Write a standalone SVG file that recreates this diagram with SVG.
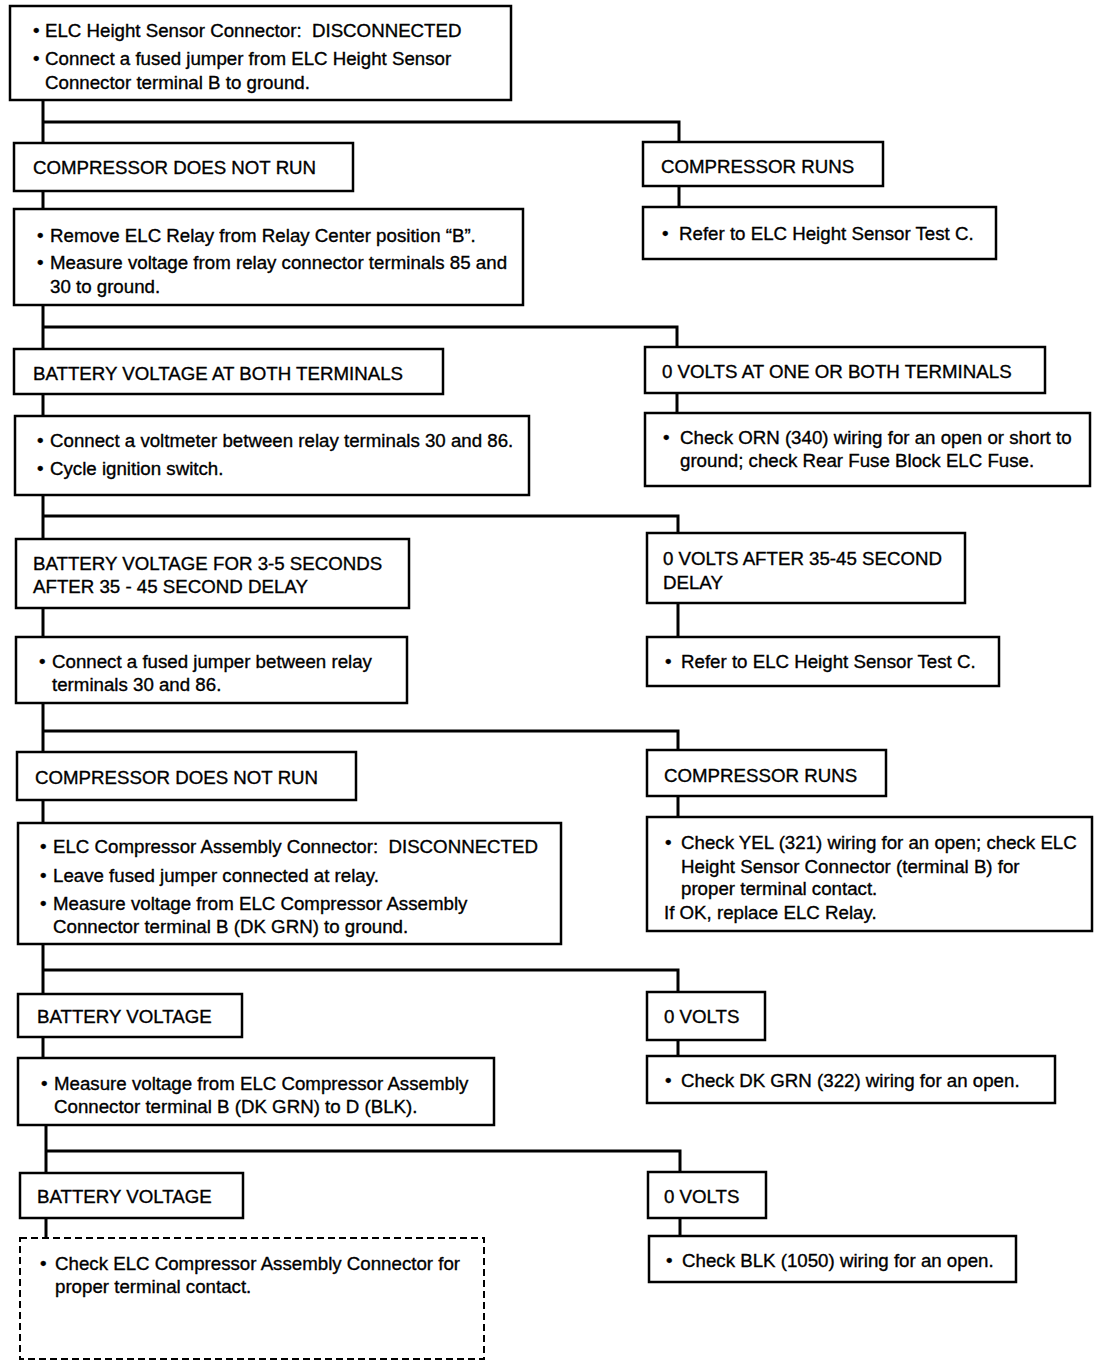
<svg xmlns="http://www.w3.org/2000/svg" width="1104" height="1370" viewBox="0 0 1104 1370">
<style>
.box{fill:#fff;stroke:#000;stroke-width:2.5}
.dash{fill:#fff;stroke:#000;stroke-width:2;stroke-dasharray:7 4}
.wire{fill:none;stroke:#000;stroke-width:3}
text{font-family:"Liberation Sans",Arial,Helvetica,sans-serif;font-size:18.7px;fill:#000;stroke:#000;stroke-width:0.35}
</style>
<rect width="1104" height="1370" fill="#fff"/>
<g id="connectors">
<path class="wire" d="M43 100V143M43 191V209M43 305V349M43 394V416M43 495V539M43 608V637M43 703V752M43 800V823M43 944V994M43 1037V1058M46 1125V1173M46 1218V1238"/>
<path class="wire" d="M43 122H679V142M679 186V207"/>
<path class="wire" d="M43 327H677V347M677 393V413"/>
<path class="wire" d="M43 516H678V533M678 603V637"/>
<path class="wire" d="M43 731H678V750M678 796V817"/>
<path class="wire" d="M43 970H678V992M678 1040V1056"/>
<path class="wire" d="M46 1151H680V1172M680 1218V1236"/>
</g>
<g id="n1"><rect class="box" x="10" y="6" width="501" height="94"/>
<text x="33" y="37">•</text><text x="45" y="37">ELC Height Sensor Connector:&#160; DISCONNECTED</text>
<text x="33" y="65">•</text><text x="45" y="65">Connect a fused jumper from ELC Height Sensor</text>
<text x="45" y="89">Connector terminal B to ground.</text></g>
<g id="n2"><rect class="box" x="14" y="143" width="339" height="48"/><text x="33" y="174">COMPRESSOR DOES NOT RUN</text></g>
<g id="n3"><rect class="box" x="643" y="142" width="240" height="44"/><text x="661" y="173">COMPRESSOR RUNS</text></g>
<g id="n4"><rect class="box" x="643" y="207" width="353" height="52"/><text x="662" y="240">•</text><text x="679" y="240">Refer to ELC Height Sensor Test C.</text></g>
<g id="n5"><rect class="box" x="14" y="209" width="509" height="96"/>
<text x="37" y="242">•</text><text x="50" y="242">Remove ELC Relay from Relay Center position “B”.</text>
<text x="37" y="269">•</text><text x="50" y="269">Measure voltage from relay connector terminals 85 and</text>
<text x="50" y="293">30 to ground.</text></g>
<g id="n6"><rect class="box" x="14" y="349" width="429" height="45"/><text x="33" y="380">BATTERY VOLTAGE AT BOTH TERMINALS</text></g>
<g id="n7"><rect class="box" x="645" y="347" width="400" height="46"/><text x="662" y="378">0 VOLTS AT ONE OR BOTH TERMINALS</text></g>
<g id="n8"><rect class="box" x="645" y="413" width="445" height="73"/>
<text x="663" y="444">•</text><text x="680" y="444">Check ORN (340) wiring for an open or short to</text>
<text x="680" y="467">ground; check Rear Fuse Block ELC Fuse.</text></g>
<g id="n9"><rect class="box" x="15" y="416" width="514" height="79"/>
<text x="37" y="447">•</text><text x="50" y="447">Connect a voltmeter between relay terminals 30 and 86.</text>
<text x="37" y="475">•</text><text x="50" y="475">Cycle ignition switch.</text></g>
<g id="n10"><rect class="box" x="16" y="539" width="393" height="69"/>
<text x="33" y="570">BATTERY VOLTAGE FOR 3-5 SECONDS</text>
<text x="33" y="593">AFTER 35 - 45 SECOND DELAY</text></g>
<g id="n11"><rect class="box" x="647" y="533" width="318" height="70"/>
<text x="663" y="565">0 VOLTS AFTER 35-45 SECOND</text>
<text x="663" y="589">DELAY</text></g>
<g id="n12"><rect class="box" x="647" y="637" width="352" height="49"/><text x="665" y="668">•</text><text x="681" y="668">Refer to ELC Height Sensor Test C.</text></g>
<g id="n13"><rect class="box" x="16" y="637" width="391" height="66"/>
<text x="39" y="668">•</text><text x="52" y="668">Connect a fused jumper between relay</text>
<text x="52" y="691">terminals 30 and 86.</text></g>
<g id="n14"><rect class="box" x="17" y="752" width="339" height="48"/><text x="35" y="784">COMPRESSOR DOES NOT RUN</text></g>
<g id="n15"><rect class="box" x="647" y="750" width="239" height="46"/><text x="664" y="782">COMPRESSOR RUNS</text></g>
<g id="n16"><rect class="box" x="647" y="817" width="445" height="114"/>
<text x="665" y="849">•</text><text x="681" y="849">Check YEL (321) wiring for an open; check ELC</text>
<text x="681" y="873">Height Sensor Connector (terminal B) for</text>
<text x="681" y="895">proper terminal contact.</text>
<text x="664" y="919">If OK, replace ELC Relay.</text></g>
<g id="n17"><rect class="box" x="18" y="823" width="543" height="121"/>
<text x="40" y="853">•</text><text x="53" y="853">ELC Compressor Assembly Connector:&#160; DISCONNECTED</text>
<text x="40" y="882">•</text><text x="53" y="882">Leave fused jumper connected at relay.</text>
<text x="40" y="910">•</text><text x="53" y="910">Measure voltage from ELC Compressor Assembly</text>
<text x="53" y="933">Connector terminal B (DK GRN) to ground.</text></g>
<g id="n18"><rect class="box" x="18" y="994" width="224" height="43"/><text x="37" y="1023">BATTERY VOLTAGE</text></g>
<g id="n19"><rect class="box" x="647" y="992" width="118" height="48"/><text x="664" y="1023">0 VOLTS</text></g>
<g id="n20"><rect class="box" x="647" y="1056" width="408" height="47"/><text x="665" y="1087">•</text><text x="681" y="1087">Check DK GRN (322) wiring for an open.</text></g>
<g id="n21"><rect class="box" x="18" y="1058" width="476" height="67"/>
<text x="41" y="1090">•</text><text x="54" y="1090">Measure voltage from ELC Compressor Assembly</text>
<text x="54" y="1113">Connector terminal B (DK GRN) to D (BLK).</text></g>
<g id="n22"><rect class="box" x="20" y="1173" width="223" height="45"/><text x="37" y="1203">BATTERY VOLTAGE</text></g>
<g id="n23"><rect class="box" x="648" y="1172" width="118" height="46"/><text x="664" y="1203">0 VOLTS</text></g>
<g id="n24"><rect class="box" x="649" y="1236" width="367" height="46"/><text x="666" y="1267">•</text><text x="682" y="1267">Check BLK (1050) wiring for an open.</text></g>
<g id="n25"><rect class="dash" x="20" y="1238" width="464" height="121"/>
<text x="40" y="1270">•</text><text x="55" y="1270">Check ELC Compressor Assembly Connector for</text>
<text x="55" y="1293">proper terminal contact.</text></g>
</svg>
